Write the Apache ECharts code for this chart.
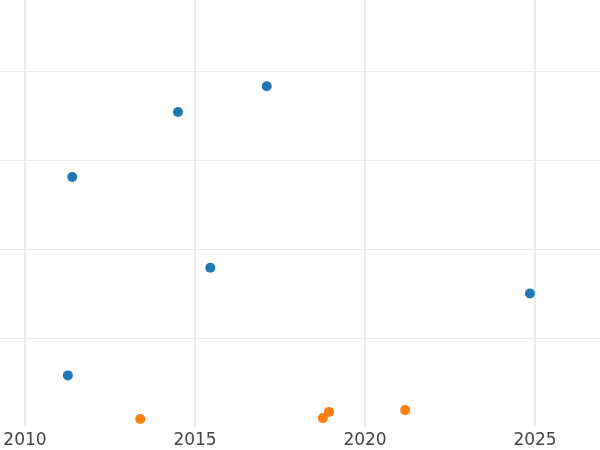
<!DOCTYPE html>
<html>
<head>
<meta charset="utf-8">
<script src="https://cdn.jsdelivr.net/npm/echarts@6/dist/echarts.min.js"></script>
<style>html,body{margin:0;padding:0;background:#fff}#c{width:600px;height:450px}</style>
</head>
<body>
<div id="c"></div>
<script>
var blueX = [2011.39, 2014.5, 2017.11, 2015.45, 2024.85, 2011.26];
var blueY = [28.1, 35.4, 38.3, 17.9, 15.0, 5.8];
var orangeX = [2013.39, 2018.76, 2018.94, 2021.18];
var orangeY = [0.9, 1.0, 1.7, 1.9];
var xTicks = [2010, 2015, 2020, 2025];

function pairs(xs, ys) { return xs.map(function (x, i) { return [x, ys[i]]; }); }

var chart = echarts.init(document.getElementById('c'));
chart.setOption({
  animation: false,
  backgroundColor: '#ffffff',
  grid: { left: 0, right: 0, top: 0, bottom: 23, containLabel: false },
  xAxis: {
    type: 'value', min: 2009.265, max: 2026.91,
    axisLine: { show: false },
    axisTick: { show: false, customValues: xTicks },
    axisLabel: {
      color: '#444444', fontSize: 17, fontFamily: 'DejaVu Sans', margin: 5,
      customValues: xTicks, showMinLabel: true, showMaxLabel: true,
      hideOverlap: false,
      formatter: function (v) { return String(v); }
    },
    splitLine: { show: true, lineStyle: { color: '#ebebeb', width: 2 } }
  },
  yAxis: {
    type: 'value', min: 0, max: 48, interval: 10,
    axisLine: { show: false }, axisTick: { show: false }, axisLabel: { show: false },
    splitLine: { show: true, lineStyle: { color: ['rgba(0,0,0,0)', '#ebebeb', '#ebebeb', '#ebebeb', '#ebebeb', 'rgba(0,0,0,0)'], width: 1 } }
  },
  series: [
    { type: 'scatter', data: pairs(blueX, blueY), symbolSize: 10, itemStyle: { color: '#1f77b4', opacity: 1 } },
    { type: 'scatter', data: pairs(orangeX, orangeY), symbolSize: 10, itemStyle: { color: '#ff7f0e', opacity: 1 } }
  ]
});
</script>
</body>
</html>
